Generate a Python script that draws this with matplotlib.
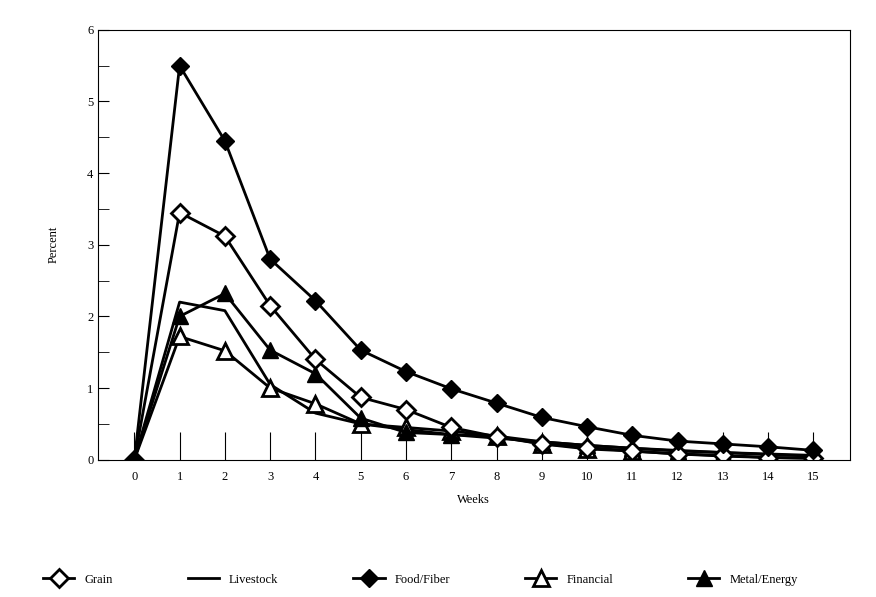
import matplotlib
matplotlib.use("Agg")
import matplotlib.pyplot as plt
from matplotlib.lines import Line2D

plt.rcParams['font.family'] = ['Liberation Serif', 'DejaVu Serif']

weeks = list(range(16))
grain = [0, 3.45, 3.12, 2.15, 1.4, 0.87, 0.7, 0.45, 0.32, 0.22, 0.17, 0.12, 0.08, 0.06, 0.03, 0.02]
livestock = [0, 2.2, 2.08, 1.05, 0.65, 0.5, 0.42, 0.35, 0.3, 0.25, 0.2, 0.16, 0.13, 0.1, 0.08, 0.06]
food_fiber = [0, 5.5, 4.45, 2.8, 2.22, 1.53, 1.23, 0.99, 0.79, 0.59, 0.46, 0.34, 0.26, 0.22, 0.18, 0.13]
financial = [0, 1.72, 1.52, 1.0, 0.78, 0.5, 0.45, 0.4, 0.33, 0.22, 0.15, 0.12, 0.08, 0.05, 0.03, 0.02]
metal_energy = [0, 2.0, 2.32, 1.53, 1.2, 0.58, 0.38, 0.35, 0.33, 0.25, 0.2, 0.16, 0.12, 0.1, 0.07, 0.05]

fig = plt.figure(figsize=(8.76, 5.97), dpi=100)
ax = fig.add_axes([0.112, 0.23, 0.858, 0.72])

kw = dict(color="black", linewidth=2)
ax.plot(weeks, livestock, color="black", linewidth=2)
ax.plot(weeks, financial, marker="^", markersize=11, markerfacecolor="white", markeredgewidth=2, **kw)
ax.plot(weeks, metal_energy, marker="^", markersize=11, **kw)
ax.plot(weeks, grain, marker="D", markersize=9, markerfacecolor="white", markeredgewidth=2, **kw)
ax.plot(weeks, food_fiber, marker="D", markersize=9, **kw)

ax.set_xlim(-0.8, 15.8)
ax.set_ylim(0, 6)
ax.set_xticks(weeks)
ax.set_yticks(range(7))
ax.set_yticks([i + 0.5 for i in range(6)], minor=True)
ax.tick_params(axis="x", direction="in", length=20, labelsize=9, pad=8)
ax.tick_params(axis="y", which="both", direction="in", length=8, labelsize=9)
ax.set_xlabel("Weeks", fontsize=9, labelpad=8)
ax.set_ylabel("Percent", fontsize=9, labelpad=20)

handles = [
    Line2D([], [], color="black", linewidth=2, marker="D", markersize=9, markerfacecolor="white", markeredgewidth=2),
    Line2D([], [], color="black", linewidth=2),
    Line2D([], [], color="black", linewidth=2, marker="D", markersize=9),
    Line2D([], [], color="black", linewidth=2, marker="^", markersize=11, markerfacecolor="white", markeredgewidth=2),
    Line2D([], [], color="black", linewidth=2, marker="^", markersize=11),
]
labels = ["Grain", "Livestock", "Food/Fiber", "Financial", "Metal/Energy"]
fig.legend(handles, labels, loc="lower center", ncol=5, frameon=False, fontsize=9,
           bbox_to_anchor=(0.48, 0.0), columnspacing=6, handlelength=2.5)

fig.savefig("out.png")
